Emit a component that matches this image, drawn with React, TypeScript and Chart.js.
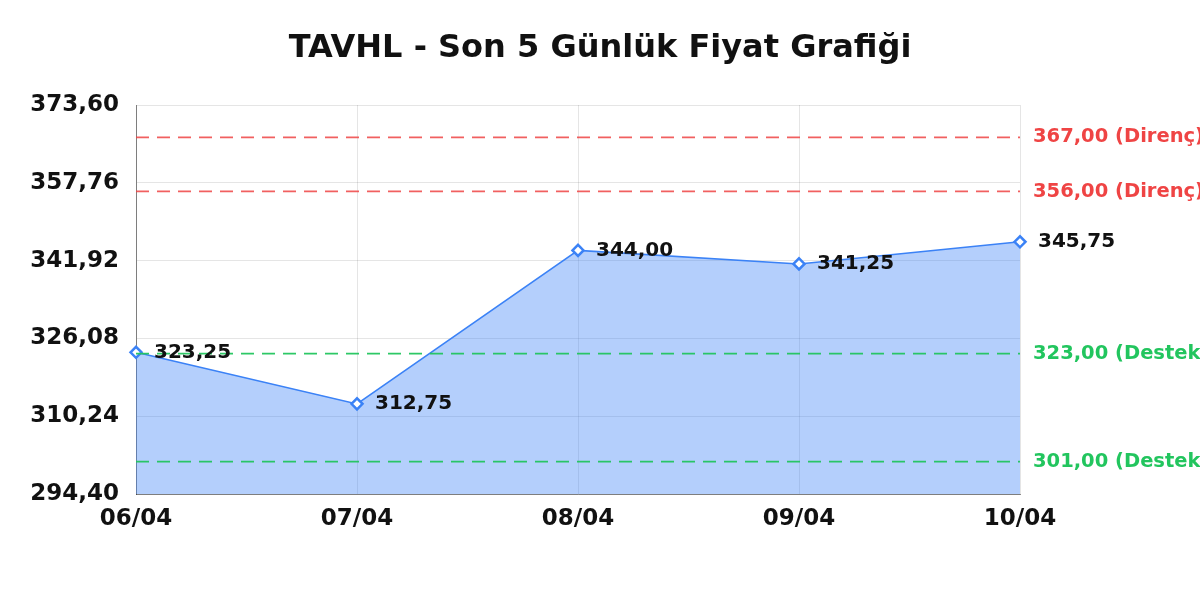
import React, { useEffect, useRef } from "react";
import { Chart, registerables } from "chart.js";

Chart.register(...registerables);

const labels = ["06/04", "07/04", "08/04", "09/04", "10/04"];
const prices = [323.25, 312.75, 344.0, 341.25, 345.75];
const yTicks = [294.4, 310.24, 326.08, 341.92, 357.76, 373.6];
const resistance = [367.0, 356.0];
const support = [323.0, 301.0];
const titleText = "TAVHL - Son 5 Günlük Fiyat Grafiği";

const FONT = "'DejaVu Sans', sans-serif";
const fmt = (v: number) => v.toFixed(2).replace(".", ",");

const refLinesPlugin = {
  id: "refLines",
  afterDatasetsDraw(chart: any) {
    const { ctx, chartArea, scales } = chart;
    const y = scales.y;
    const draw = (v: number, line: string, text: string, label: string) => {
      const py = y.getPixelForValue(v);
      ctx.save();
      ctx.strokeStyle = line;
      ctx.lineWidth = 1.8;
      ctx.setLineDash([13, 8]);
      ctx.beginPath();
      ctx.moveTo(chartArea.left, py);
      ctx.lineTo(chartArea.right, py);
      ctx.stroke();
      ctx.setLineDash([]);
      ctx.fillStyle = text;
      ctx.font = `bold 19.5px ${FONT}`;
      ctx.textAlign = "left";
      ctx.textBaseline = "middle";
      ctx.fillText(label, chartArea.right + 13, py);
      ctx.restore();
    };
    resistance.forEach((v) =>
      draw(v, "rgba(239,68,68,0.85)", "#ef4444", `${fmt(v)} (Direnç)`)
    );
    support.forEach((v) =>
      draw(v, "rgba(34,197,94,0.95)", "#22c55e", `${fmt(v)} (Destek)`)
    );
  },
};

const pointLabelPlugin = {
  id: "pointLabels",
  afterDraw(chart: any) {
    const { ctx } = chart;
    const meta = chart.getDatasetMeta(0);
    ctx.save();
    ctx.fillStyle = "#111";
    ctx.font = `bold 20px ${FONT}`;
    ctx.textAlign = "left";
    ctx.textBaseline = "middle";
    meta.data.forEach((pt: any, i: number) => {
      ctx.fillText(fmt(prices[i]), pt.x + 18, pt.y);
    });
    ctx.restore();
  },
};

export default function App() {
  const ref = useRef<HTMLCanvasElement>(null);

  useEffect(() => {
    if (!ref.current) return;
    Chart.defaults.font.family = FONT;
    const chart = new Chart(ref.current, {
      type: "line",
      data: {
        labels,
        datasets: [
          {
            data: prices,
            borderColor: "#3b82f6",
            borderWidth: 1.5,
            backgroundColor: "rgba(59,130,246,0.38)",
            fill: "start",
            tension: 0,
            pointStyle: "rectRot",
            pointRadius: 5.5,
            pointBorderWidth: 2.5,
            pointBackgroundColor: "#ffffff",
            pointBorderColor: "#3b82f6",
          },
        ],
      },
      options: {
        animation: false,
        responsive: true,
        maintainAspectRatio: false,
        layout: { padding: 0 },
        plugins: {
          legend: { display: false },
          tooltip: { enabled: false },
          title: {
            display: true,
            text: titleText,
            color: "#111",
            font: { family: FONT, size: 32, weight: "bold", lineHeight: 1.2 },
            padding: { top: 29, bottom: 37.6 },
          },
        },
        scales: {
          x: {
            grid: { drawTicks: false, color: "rgba(0,0,0,0.1)" },
            border: { color: "rgba(0,0,0,0.45)" },
            ticks: {
              color: "#111",
              padding: 11,
              maxRotation: 0,
              autoSkip: false,
              font: { family: FONT, size: 23, weight: "bold" },
            },
            afterFit: (s: any) => {
              s.height = 106;
            },
          },
          y: {
            min: 294.4,
            max: 373.6,
            grid: { drawTicks: false, color: "rgba(0,0,0,0.1)" },
            border: { color: "rgba(0,0,0,0.45)" },
            ticks: {
              color: "#111",
              padding: 17,
              font: { family: FONT, size: 23, weight: "bold" },
              callback: (v: any) => fmt(Number(v)),
            },
            afterBuildTicks: (s: any) => {
              s.ticks = yTicks.map((v) => ({ value: v }));
            },
            afterFit: (s: any) => {
              s.width = 136;
            },
          },
          y2: {
            type: "linear",
            position: "right",
            display: true,
            min: 0,
            max: 1,
            grid: { display: false, drawTicks: false },
            border: { display: false },
            ticks: { display: false },
            afterFit: (s: any) => {
              s.width = 180;
            },
          },
        },
      } as any,
      plugins: [refLinesPlugin, pointLabelPlugin],
    });
    return () => chart.destroy();
  }, []);

  return (
    <div
      style={{
        position: "fixed",
        left: 0,
        top: 0,
        width: 1200,
        height: 600,
        background: "#fff",
      }}
    >
      <canvas ref={ref} />
    </div>
  );
}
